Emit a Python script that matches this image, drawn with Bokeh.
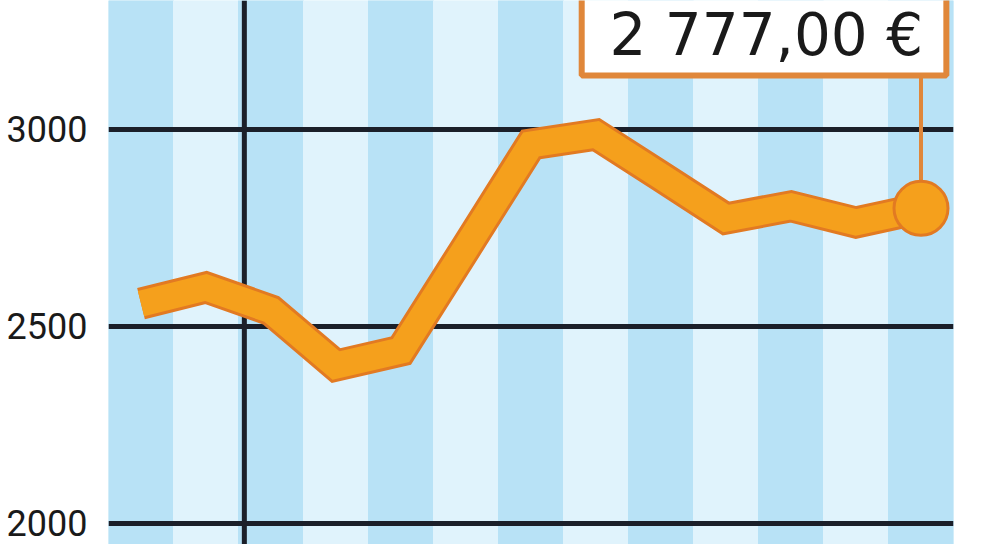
from bokeh.plotting import figure
from bokeh.models import Range1d, FixedTicker, Span
from bokeh.core.properties import value
from bokeh.embed import file_html
from bokeh.resources import INLINE

# monthly values (one per stripe)
months = list(range(13))
prices = [2558, 2599, 2541, 2401, 2439, 2700, 2962, 2987, 2881, 2774, 2805, 2764, 2800]
y_ticks = [2000, 2500, 3000]
current_price = 2777.00
year_break = 1.59  # the black vertical line between the years

# colours
stripe_dark = "#b8e2f6"
stripe_light = "#e0f3fc"
grid_color = "#1b1f29"
orange = "#f5a01c"
orange_dark = "#e27a22"
box_border = "#e0873a"

p = figure(width=984, height=544, output_backend="svg", toolbar_location=None,
           x_axis_location=None, y_axis_location="left")
p.x_range = Range1d(-0.5, 12.5)
p.y_range = Range1d(1946.7, 3327.4)
p.min_border = 0
p.min_border_left = 108
p.min_border_right = 31
p.outline_line_color = None
p.background_fill_color = "white"
p.border_fill_color = "white"

# y axis, only the labels
p.yaxis.ticker = FixedTicker(ticks=y_ticks)
p.yaxis.axis_line_color = None
p.yaxis.major_tick_line_color = None
p.yaxis.minor_tick_line_color = None
p.yaxis.major_label_standoff = 15
p.yaxis.major_label_text_font = "Roboto"
p.yaxis.major_label_text_font_size = "36px"
p.yaxis.major_label_text_line_height = 1.0
p.yaxis.major_label_text_color = "#1a1a1a"

# grid: black horizontal lines above the stripes
p.xgrid.visible = False
p.ygrid.ticker = FixedTicker(ticks=y_ticks)
p.ygrid.grid_line_color = grid_color
p.ygrid.grid_line_width = 5

# alternating stripes, one per month
stripe_colors = [stripe_dark if m % 2 == 0 else stripe_light for m in months]
p.vbar(x=months, width=1, bottom=1900, top=3400, color=stripe_colors, level="image")

p.add_layout(Span(location=year_break, dimension="height", line_color=grid_color,
                  line_width=5, level="underlay"))

# the price line: darker outline, then the fill
p.line(months, prices, line_width=32, line_color=orange_dark, line_join="miter", line_cap="butt")
p.line(months, prices, line_width=26, line_color=orange, line_join="miter", line_cap="butt")

# callout with the current price
label = f"{current_price:,.2f}".replace(",", " ").replace(".", ",") + " €"
p.segment(x0=[months[-1]], y0=[3137], x1=[months[-1]], y1=[prices[-1]],
          line_color=box_border, line_width=4)
p.quad(left=[6.78], right=[12.39], bottom=[3137], top=[3420],
       fill_color="white", line_color=box_border, line_width=6)
p.text(x=[9.62], y=[3241], text=[label], text_align="center", text_baseline="middle",
       text_font=value("DejaVu Sans"), text_font_size="58px", text_color="#1a1a1a")

p.scatter([months[-1]], [prices[-1]], size=54, fill_color=orange,
          line_color=orange_dark, line_width=3)

open("out.html", "w").write(file_html(p, INLINE))
